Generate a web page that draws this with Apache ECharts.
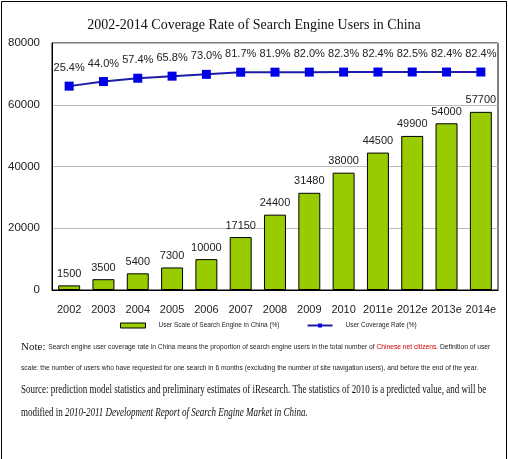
<!DOCTYPE html>
<html><head><meta charset="utf-8">
<script src="https://cdn.jsdelivr.net/npm/echarts@6/dist/echarts.min.js"></script>
<style>html,body{margin:0;padding:0;background:#fff}#c{width:508px;height:459px}</style>
</head><body><div id="c"></div>
<script>
const categories = ['2002','2003','2004','2005','2006','2007','2008','2009','2010','2011e','2012e','2013e','2014e'];
const userScale = [1500,3500,5400,7300,10000,17150,24400,31480,38000,44500,49900,54000,57700];
const coverageRate = [25.4,44.0,57.4,65.8,73.0,81.7,81.9,82.0,82.3,82.4,82.5,82.4,82.4];
const yTicks = [0,20000,40000,60000,80000];

const chart = echarts.init(document.getElementById('c'));
const sans = 'Liberation Sans';
const serif = 'Liberation Serif';
chart.setOption({
  animation: false,
  backgroundColor: '#fff',
  title: {
    text: '2002-2014 Coverage Rate of Search Engine Users in China',
    left: 'center', top: 13,
    textStyle: {fontFamily: serif, fontSize: 14, fontWeight: 'normal', color: '#111'}
  },
  grid: {left: 52, right: 10, top: 43, bottom: 169, show: true, borderColor: '#000', borderWidth: 1},
  legend: {
    top: 317, left: 115, itemGap: 27, itemWidth: 25, itemHeight: 5,
    textStyle: {fontFamily: sans, fontSize: 6.5, color: '#222', padding: [0,0,0,8]},
    data: [
      {name: 'User Scale of Search Engine in China (%)', icon: 'rect', itemStyle: {color: '#99cc00', borderColor: '#000', borderWidth: 1}},
      {name: 'User Coverage Rate (%)'}
    ]
  },
  xAxis: {
    type: 'category', data: categories,
    axisLine: {lineStyle: {color: '#000'}}, axisTick: {show: false},
    axisLabel: {fontFamily: sans, fontSize: 11, color: '#222', margin: 14, interval: 0}
  },
  yAxis: [{
    type: 'value', min: yTicks[0], max: yTicks[yTicks.length-1], interval: 20000,
    axisLine: {show: true, lineStyle: {color: '#000'}}, axisTick: {show: false},
    axisLabel: {fontFamily: sans, fontSize: 11.5, color: '#222', margin: 12, formatter: v => String(v)},
    splitLine: {lineStyle: {color: '#bbb'}}
  }, {
    type: 'value', min: -800, max: 200, show: false, splitLine: {show: false}
  }],
  series: [{
    name: 'User Scale of Search Engine in China (%)', type: 'bar', data: userScale,
    barWidth: '64%',
    itemStyle: {color: '#99cc00', borderColor: '#000', borderWidth: 1},
    label: {show: true, position: 'top', distance: 6, fontFamily: sans, fontSize: 11, color: '#222'}
  }, {
    name: 'User Coverage Rate (%)', type: 'line', yAxisIndex: 1, data: coverageRate,
    symbol: 'rect', symbolSize: 9,
    lineStyle: {color: '#1c1ca8', width: 2},
    itemStyle: {color: '#0000e6'},
    label: {show: true, position: 'top', distance: 8, fontFamily: sans, fontSize: 11, color: '#222',
      formatter: p => p.value.toFixed(1) + '%'}
  }],
  graphic: [
    {type: 'rect', shape: {x: 1.5, y: 1.5, width: 505, height: 470}, style: {fill: 'none', stroke: '#000', lineWidth: 1}, silent: true},
    {type: 'text', left: 21, top: 342, style: {
      text: '{n|Note: }{s|Search engine user coverage rate in China means the proportion of search engine users in the total number of }{r|Chinese net citizens.}{s| Definition of user}',
      rich: {n: {fontFamily: serif, fontSize: 11, fill: '#111'}, s: {fontFamily: sans, fontSize: 6.7, fill: '#222'}, r: {fontFamily: sans, fontSize: 6.7, fill: '#cc0000'}}
    }},
    {type: 'text', left: 21, top: 365, style: {
      text: 'scale: the number of users who have requested for one search in 6 months (excluding the number of site navigation users), and before the end of the year.',
      fontFamily: sans, fontSize: 6.7, fill: '#222'
    }},
    {type: 'text', x: 21, y: 383, scaleX: 0.72, style: {
      text: 'Source: prediction model statistics and preliminary estimates of iResearch. The statistics of 2010 is a predicted value, and will be',
      fontFamily: serif, fontSize: 12.5, fill: '#111'
    }},
    {type: 'text', x: 21, y: 406, scaleX: 0.72, style: {
      text: '{a|modified in }{i|2010-2011 Development Report of Search Engine Market in China.}',
      rich: {a: {fontFamily: serif, fontSize: 12.5, fill: '#111'}, i: {fontFamily: serif, fontSize: 12.5, fontStyle: 'italic', fill: '#111'}}
    }}
  ]
});
</script></body></html>
